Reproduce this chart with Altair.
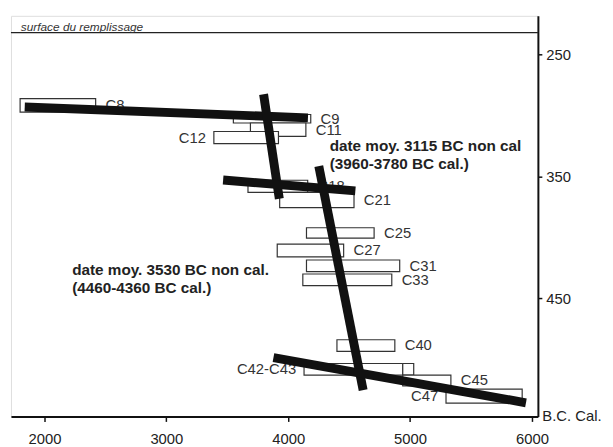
import altair as alt
import pandas as pd

# --- samples (date ranges, B.C. cal., and depth ranges) ---
names = ["C8", "C9", "C11", "C12", "C18", "C21", "C25", "C27", "C31", "C33",
         "C40", "C42-C43", "", "C45", "C47"]
date_start = [1800, 3550, 3690, 3390, 3670, 3930, 4150, 3910, 4150, 4120,
              4400, 4130, 4940, 4940, 5295]
date_end = [2420, 4185, 4145, 3920, 4160, 4540, 4705, 4455, 4915, 4850,
            4875, 4940, 5030, 5335, 5920]
depth_top = [286, 299, 306, 313, 353, 363, 392, 405.5, 418.5, 430,
             484, 503.5, 503.5, 513, 524.5]
depth_bottom = [297, 306, 317, 323, 363, 375.5, 400.5, 416, 428, 439.5,
                493.5, 513, 513, 522, 536]
label_side = ["right", "right", "right", "left", "right", "right", "right", "right",
              "right", "right", "right", "left", "right", "right", "left"]

# --- thick trend lines ---
trend_id = ["A", "A", "B", "B", "C", "C", "D", "D", "E", "E"]
trend_date = [1838, 4162, 3798, 3927, 3466, 4551, 4251, 4615, 3879, 5951]
trend_depth = [292.9, 301.8, 282.4, 368.2, 352.8, 361.7, 341.5, 525.3, 498.6, 535.8]

# --- annotations ---
note_lines = ["date moy. 3115 BC non cal", "(3960-3780 BC cal.)",
              "date moy. 3530 BC non cal.", "(4460-4360 BC cal.)"]
note_date = [4340, 4340, 2227, 2227]
note_depth = [329.4, 343.9, 430.6, 446.0]

x_ticks = [2000, 3000, 4000, 5000, 6000]
y_ticks = [250, 350, 450]

boxes = pd.DataFrame({
    "name": names, "start": date_start, "end": date_end,
    "top": depth_top, "bottom": depth_bottom, "side": label_side,
})
boxes["mid"] = (boxes["top"] + boxes["bottom"]) / 2
boxes["lx"] = [e if s == "right" else b for b, e, s in zip(date_start, date_end, label_side)]

trends = pd.DataFrame({"id": trend_id, "date": trend_date, "depth": trend_depth})
notes = pd.DataFrame({"text": note_lines, "date": note_date, "depth": note_depth})

FONT = "Liberation Sans"
xscale = alt.Scale(domain=[1725, 6049], nice=False, zero=False)
yscale = alt.Scale(domain=[218, 547], nice=False, zero=False, reverse=True)

xaxis = alt.Axis(values=x_ticks, format="d", title="B.C. Cal.", grid=False,
                 tickSize=5, labelPadding=10, labelFontSize=15, labelColor="#222",
                 domainColor="#111", domainWidth=2, tickColor="#111", tickWidth=1.5,
                 titleX=538, titleY=4, titleAlign="left", titleBaseline="alphabetic",
                 titleFontSize=15, titleFontWeight="normal", titleColor="#222",
                 labelFlush=False)
yaxis = alt.Axis(values=y_ticks, orient="right", title=None, grid=False,
                 tickSize=4, labelPadding=4, labelFontSize=15, labelColor="#222",
                 domainColor="#111", domainWidth=2, tickColor="#111", tickWidth=1.5)

base_box = alt.Chart(boxes)

rects = base_box.mark_rect(fill="white", stroke="#333", strokeWidth=1.2).encode(
    x=alt.X("start:Q", scale=xscale, axis=xaxis),
    x2="end:Q",
    y=alt.Y("top:Q", scale=yscale, axis=yaxis),
    y2="bottom:Q",
)

labels_r = base_box.transform_filter(alt.datum.side == "right").mark_text(
    align="left", baseline="middle", dx=10, fontSize=15, color="#333", font=FONT
).encode(x=alt.X("lx:Q", scale=xscale), y=alt.Y("mid:Q", scale=yscale), text="name:N")

labels_l = base_box.transform_filter(alt.datum.side == "left").mark_text(
    align="right", baseline="middle", dx=-8, fontSize=15, color="#333", font=FONT
).encode(x=alt.X("lx:Q", scale=xscale), y=alt.Y("mid:Q", scale=yscale), text="name:N")

lines = alt.Chart(trends).mark_line(color="#111", strokeWidth=9, strokeCap="butt").encode(
    x=alt.X("date:Q", scale=xscale),
    y=alt.Y("depth:Q", scale=yscale),
    detail="id:N",
)

note_text = alt.Chart(notes).mark_text(
    align="left", baseline="alphabetic", fontSize=15.5, fontWeight="bold",
    color="#222", font=FONT
).encode(x=alt.X("date:Q", scale=xscale), y=alt.Y("depth:Q", scale=yscale), text="text:N")

header_rule = alt.Chart(pd.DataFrame({"a": [0]})).mark_rule(color="#222", strokeWidth=1.2).encode(
    x=alt.value(0), x2=alt.value(534), y=alt.value(17)
)
header_text = alt.Chart(pd.DataFrame({"t": ["surface du remplissage"]})).mark_text(
    align="left", baseline="middle", fontSize=12, fontStyle="italic", color="#333", font=FONT
).encode(x=alt.value(10), y=alt.value(11), text="t:N")

chart = alt.layer(header_rule, header_text, rects, labels_r, labels_l, lines, note_text).properties(
    width=534, height=406,
    autosize=alt.AutoSizeParams(type="none"),
    padding={"left": 3, "top": 5, "right": 68, "bottom": 28},
    background="white",
).configure_view(stroke="#111", strokeWidth=2).configure(font=FONT)

chart.save("out.html", embed_options={"renderer": "svg", "actions": False})
